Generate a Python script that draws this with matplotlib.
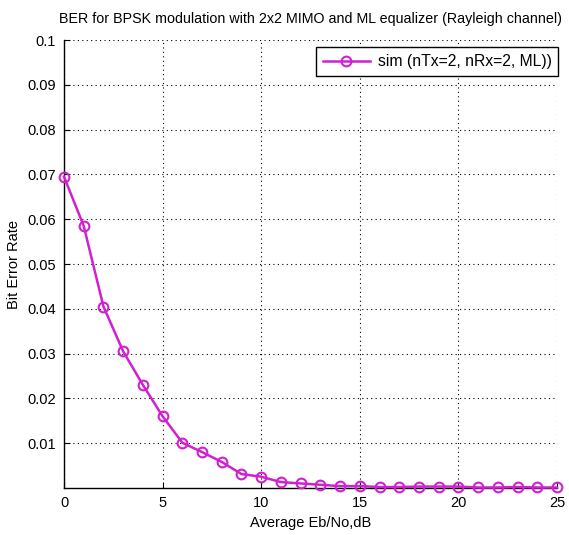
import numpy as np
import matplotlib
matplotlib.use("Agg")
import matplotlib.pyplot as plt

plt.rcParams['font.family'] = ['Liberation Sans', 'DejaVu Sans']

# Eb/No in dB and simulated BER
ebno_db = list(range(0, 26))
ber_sim = [0.0695, 0.0585, 0.0405, 0.0305, 0.023, 0.016, 0.0101, 0.0080,
           0.0058, 0.0031, 0.0025, 0.0013, 0.0010, 0.0007, 0.0004, 0.0004,
           0.0002, 0.0002, 0.0003, 0.0003, 0.0003, 0.0001, 0.0001, 0.0002,
           0.0001, 0.0001]

xticks = [0, 5, 10, 15, 20, 25]
yticks = [0.01, 0.02, 0.03, 0.04, 0.05, 0.06, 0.07, 0.08, 0.09, 0.1]
yticklabels = ['0.01', '0.02', '0.03', '0.04', '0.05', '0.06', '0.07', '0.08', '0.09', '0.1']

fig = plt.figure(figsize=(5.69, 5.35), dpi=100)
ax = fig.add_axes([0.1125, 0.088, 0.8664, 0.837])

ax.plot(ebno_db, ber_sim, color='#d020d0', linewidth=1.8, marker='o',
        markersize=7, markerfacecolor='none', markeredgewidth=1.5,
        label='sim (nTx=2, nRx=2, ML))', clip_on=False, zorder=3)

ax.set_xlim(0, 25)
ax.set_ylim(0, 0.1)
ax.set_xticks(xticks)
ax.set_yticks(yticks)
ax.set_yticklabels(yticklabels)
ax.tick_params(direction='in', length=4, labelsize=10.5, pad=6)

ax.grid(True, color='black', linestyle=(0, (1, 3)), linewidth=0.8)
for side in ['top', 'right']:
    ax.spines[side].set_visible(False)
ax.spines['left'].set_linewidth(1.0)
ax.spines['bottom'].set_linewidth(1.0)

ax.set_xlabel('Average Eb/No,dB', fontsize=10.5, labelpad=4)
ax.set_ylabel('Bit Error Rate', fontsize=10.5, labelpad=4)
ax.set_title('BER for BPSK modulation with 2x2 MIMO and ML equalizer (Rayleigh channel)',
             fontsize=10.3, pad=12)

leg = ax.legend(loc='upper right', bbox_to_anchor=(1.003, 0.984), borderaxespad=0,
                fontsize=11.3, fancybox=False, framealpha=1, edgecolor='black',
                handlelength=3, borderpad=0.45, handletextpad=0.5)
leg.get_frame().set_linewidth(1.0)

fig.savefig('out.png', dpi=100)
